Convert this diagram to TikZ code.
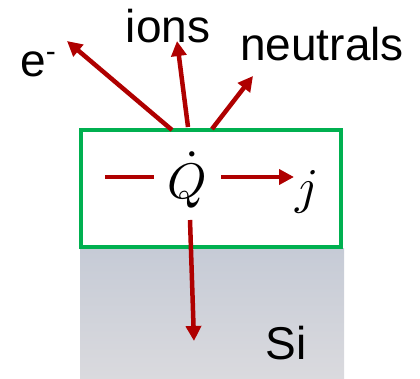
\documentclass[tikz,border=0pt]{standalone}
\usepackage{fontspec}
\usepackage{unicode-math}
\setmainfont{Liberation Sans}
\setmathfont{Latin Modern Math}
\usetikzlibrary{arrows.meta}
\definecolor{arrowred}{RGB}{175,0,0}
\definecolor{boxgreen}{RGB}{0,176,80}
\definecolor{sitop}{RGB}{198,203,214}
\definecolor{sibot}{RGB}{218,218,222}
\begin{document}
\begin{tikzpicture}[x=1pt,y=-1pt,
  flow/.style={draw=arrowred,line width=4.5pt,-{Triangle[length=15pt,width=15pt]}},
  flowline/.style={draw=arrowred,line width=4.5pt},
  lbl/.style={inner sep=0pt,font=\fontsize{46}{50}\selectfont},
  mth/.style={inner sep=0pt,font=\fontsize{50}{54}\selectfont}]
\useasboundingbox (0,0) rectangle (420,379);
% silicon substrate
\shade[top color=sitop,bottom color=sibot] (80,249) rectangle (344,379);
% green layer box
\draw[boxgreen,line width=4pt] (81,130) rectangle (341,247);
% labels
\node[lbl,anchor=base west] (e) at (20,77) {e\raisebox{15pt}{\fontsize{30}{32}\selectfont -}};
\node[lbl] (ions) at (168,26) {ions};
\node[lbl] (neut) at (322,44) {neutrals};
\node[lbl] (si) at (286,343) {Si};
\node[mth] (Q) at (187,180) {$\dot{Q}$};
\node[mth] (j) at (306,192) {$j$};
% connector endpoints
\coordinate (eS) at (172,130);
\coordinate (eT) at (67,41);
\coordinate (iS) at (188,127);
\coordinate (iT) at (177,41);
\coordinate (nS) at (212,129);
\coordinate (nT) at (253,76);
\coordinate (lA) at (105,177);
\coordinate (lB) at (154,177);
\coordinate (rA) at (221,177);
\coordinate (rT) at (294,177);
\coordinate (dA) at (190,220);
\coordinate (dT) at (194,341);
% arrows
\draw[flow] (eS) -- (eT);
\draw[flow] (iS) -- (iT);
\draw[flow] (nS) -- (nT);
\draw[flowline] (lA) -- (lB);
\draw[flow] (rA) -- (rT);
\draw[flow] (dA) -- (dT);
\end{tikzpicture}
\end{document}
